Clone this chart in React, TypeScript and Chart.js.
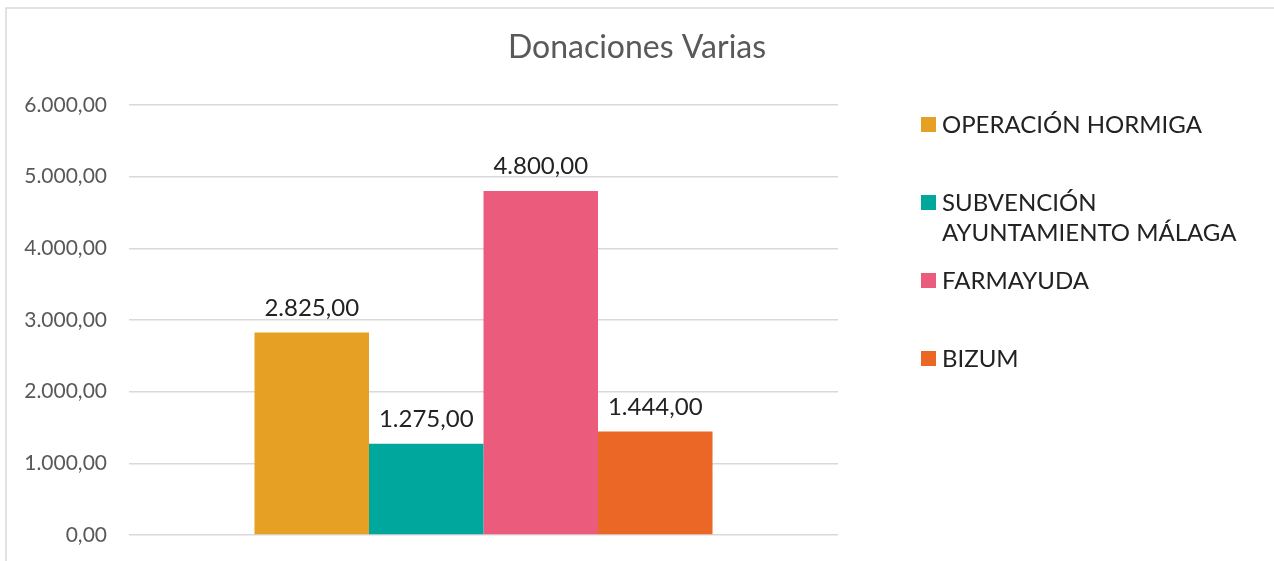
import React, { useEffect, useRef } from "react";
import { Chart, registerables } from "chart.js";

Chart.register(...registerables);

const chartTitle = "Donaciones Varias";
const categories = [""];
const seriesNames = [
  "OPERACIÓN HORMIGA",
  "SUBVENCIÓN AYUNTAMIENTO MÁLAGA",
  "FARMAYUDA",
  "BIZUM",
];
const seriesValues = [2825, 1275, 4800, 1444];
const seriesColors = ["#E6A125", "#00A79D", "#EB5B7B", "#EB6726"];
const yTicks = [0, 1000, 2000, 3000, 4000, 5000, 6000];

const FONT = "Lato, 'Open Sans', sans-serif";

function fmt(v: number): string {
  const [intPart, dec] = Math.abs(v).toFixed(2).split(".");
  const grouped = intPart.replace(/\B(?=(\d{3})+(?!\d))/g, ".");
  return (v < 0 ? "-" : "") + grouped + "," + dec;
}

function wrap(ctx: CanvasRenderingContext2D, text: string, maxW: number): string[] {
  const words = text.split(" ");
  const lines: string[] = [];
  let cur = "";
  for (const w of words) {
    const test = cur ? cur + " " + w : w;
    if (ctx.measureText(test).width > maxW && cur) {
      lines.push(cur);
      cur = w;
    } else cur = test;
  }
  if (cur) lines.push(cur);
  return lines;
}

const decorPlugin = {
  id: "decor",
  beforeDraw(chart: any) {
    const ctx = chart.ctx as CanvasRenderingContext2D;
    ctx.save();
    ctx.fillStyle = "#ffffff";
    ctx.fillRect(0, 0, chart.width, chart.height);
    ctx.strokeStyle = "#d9d9d9";
    ctx.lineWidth = 1.5;
    ctx.strokeRect(6, 8, chart.width + 20, chart.height + 20);
    ctx.restore();
  },
  afterDraw(chart: any) {
    const ctx = chart.ctx as CanvasRenderingContext2D;
    ctx.save();
    // title
    ctx.fillStyle = "#595959";
    ctx.font = `32px ${FONT}`;
    ctx.textAlign = "center";
    ctx.textBaseline = "alphabetic";
    ctx.fillText(chartTitle, 637, 58);

    // data labels
    ctx.fillStyle = "#222222";
    ctx.font = `24px ${FONT}`;
    chart.data.datasets.forEach((ds: any, i: number) => {
      const meta = chart.getDatasetMeta(i);
      meta.data.forEach((bar: any, j: number) => {
        ctx.fillText(fmt(ds.data[j]), bar.x, bar.y - 17);
      });
    });

    // legend
    ctx.textAlign = "left";
    ctx.textBaseline = "middle";
    ctx.font = `24px ${FONT}`;
    const startY = 124;
    const step = 78;
    chart.data.datasets.forEach((ds: any, i: number) => {
      const cy = startY + i * step;
      ctx.fillStyle = ds.backgroundColor;
      ctx.fillRect(921, cy - 7, 15, 15);
      ctx.fillStyle = "#222222";
      const lines = wrap(ctx, ds.label, 315);
      lines.forEach((ln, k) => ctx.fillText(ln, 942, cy + 1 + k * 30));
    });
    ctx.restore();
  },
};

export default function App() {
  const ref = useRef<HTMLCanvasElement>(null);
  useEffect(() => {
    if (!ref.current) return;
    const chart = new Chart(ref.current, {
      type: "bar",
      data: {
        labels: categories,
        datasets: seriesNames.map((name, i) => ({
          label: name,
          data: [seriesValues[i]],
          backgroundColor: seriesColors[i],
          borderWidth: 0,
          categoryPercentage: 0.646,
          barPercentage: 1,
        })),
      },
      options: {
        animation: false,
        responsive: false,
        devicePixelRatio: 1,
        layout: { padding: { top: 105, right: 436, bottom: 26, left: 0 } },
        plugins: {
          legend: { display: false },
          title: { display: false },
          tooltip: { enabled: false },
        },
        scales: {
          x: { display: false },
          y: {
            min: 0,
            max: 6000,
            afterFit: (s: any) => {
              s.width = 129;
            },
            afterBuildTicks: (s: any) => {
              s.ticks = yTicks.map((v) => ({ value: v }));
            },
            border: { display: false },
            grid: {
              color: "#d9d9d9",
              lineWidth: 1.5,
              drawTicks: true,
              tickLength: 22,
              tickColor: "rgba(0,0,0,0)",
            },
            ticks: {
              padding: 0,
              color: "#595959",
              font: { family: FONT, size: 21 },
              callback: (v: any) => fmt(Number(v)),
            },
          },
        },
      },
      plugins: [decorPlugin],
    });
    return () => chart.destroy();
  }, []);
  return (
    <div style={{ position: "fixed", left: 0, top: 0, width: 1274, height: 561 }}>
      <canvas ref={ref} width={1274} height={561} style={{ display: "block" }} />
    </div>
  );
}
